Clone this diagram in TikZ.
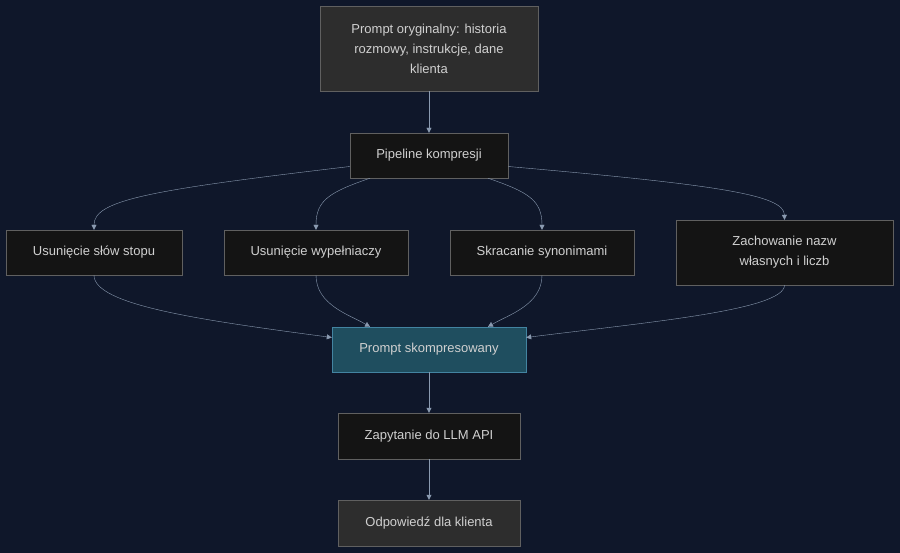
\documentclass[tikz,border=0pt]{standalone}
\usepackage{fontspec}
\setmainfont{Liberation Sans}
\usetikzlibrary{arrows.meta}
\definecolor{bgcol}{HTML}{0F172A}
\definecolor{boxdark}{HTML}{141414}
\definecolor{boxgray}{HTML}{2D2D2D}
\definecolor{boxteal}{HTML}{1F4E5F}
\definecolor{txtcol}{HTML}{D0D0D0}
\definecolor{linecol}{HTML}{8A9AB0}
\definecolor{bordcol}{HTML}{606060}
\begin{document}
\begin{tikzpicture}[x=1pt,y=-1pt, box/.style={draw=bordcol,fill=boxdark,text=txtcol,font=\fontsize{13}{20}\selectfont,align=center,inner sep=0pt}, link/.style={draw=linecol,-{Triangle[length=5pt,width=5pt]}}]
    \fill[bgcol] (0,0) rectangle (900,553);
    \useasboundingbox (0,0) rectangle (900,553);

    \node[box,fill=boxgray,minimum width=218pt,minimum height=85pt] (orig) at (429,48.5) {Prompt oryginalny: historia\\rozmowy, instrukcje, dane\\klienta};
    \node[box,minimum width=158pt,minimum height=45pt] (pipe) at (429,155.5) {Pipeline kompresji};
    \node[box,minimum width=176pt,minimum height=45pt] (stop) at (94,252.5) {Usunięcie słów stopu};
    \node[box,minimum width=184pt,minimum height=45pt] (fill) at (316,252.5) {Usunięcie wypełniaczy};
    \node[box,minimum width=184pt,minimum height=45pt] (syn) at (542,252.5) {Skracanie synonimami};
    \node[box,minimum width=217pt,minimum height=65pt] (keep) at (784.5,252.5) {Zachowanie nazw\\własnych i liczb};
    \node[box,draw=cyan!60!black,fill=boxteal,minimum width=194pt,minimum height=45pt] (comp) at (429,349.5) {Prompt skompresowany};
    \node[box,minimum width=182pt,minimum height=46pt] (llm) at (429,436) {Zapytanie do LLM API};
    \node[box,fill=boxgray,minimum width=182pt,minimum height=46pt] (resp) at (429,523) {Odpowiedź dla klienta};

    \draw[link] (orig) -- (pipe);
    \draw[link] ([yshift=-11pt]pipe.west) .. controls (150,190) and (94,200) .. (stop.north);
    \draw[link] ([xshift=-59pt]pipe.south) .. controls (330,192) and (316,200) .. (fill.north);
    \draw[link] ([xshift=59pt]pipe.south) .. controls (528,192) and (542,200) .. (syn.north);
    \draw[link] ([yshift=-11pt]pipe.east) .. controls (720,185) and (784,195) .. (keep.north);
    \draw[link] (stop.south) .. controls (94,305) and (200,320) .. ([yshift=12pt]comp.west);
    \draw[link] (fill.south) .. controls (316,305) and (350,315) .. ([xshift=-59pt]comp.north);
    \draw[link] (syn.south) .. controls (542,305) and (508,315) .. ([xshift=59pt]comp.north);
    \draw[link] (keep.south) .. controls (784,310) and (650,322) .. ([yshift=12pt]comp.east);
    \draw[link] (comp) -- (llm);
    \draw[link] (llm) -- (resp);
\end{tikzpicture}
\end{document}
